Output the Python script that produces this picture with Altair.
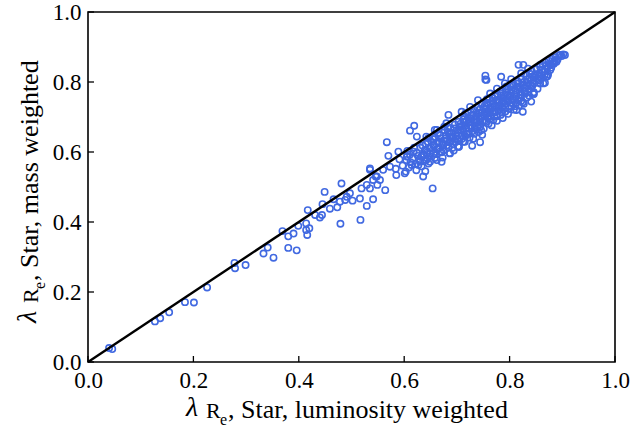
import altair as alt
import pandas as pd

# Hand-read values from the reference: (luminosity weighted, mass weighted) lambda_Re
low_tail = [
    (0.040, 0.040), (0.046, 0.037), (0.127, 0.116), (0.137, 0.125), (0.154, 0.142), (0.184, 0.171),
    (0.201, 0.170), (0.226, 0.213), (0.278, 0.283), (0.279, 0.268), (0.299, 0.277), (0.333, 0.310),
    (0.341, 0.327), (0.352, 0.298), (0.369, 0.374), (0.380, 0.359), (0.390, 0.367), (0.380, 0.326),
    (0.396, 0.319), (0.399, 0.389),
]
mid_range = [
    (0.481, 0.510), (0.449, 0.486), (0.417, 0.434), (0.445, 0.451), (0.444, 0.420), (0.440, 0.413),
    (0.431, 0.420), (0.459, 0.438), (0.473, 0.442), (0.466, 0.465), (0.478, 0.458), (0.488, 0.463),
    (0.491, 0.472), (0.497, 0.482), (0.502, 0.461), (0.516, 0.467), (0.529, 0.446), (0.541, 0.465),
    (0.479, 0.395), (0.517, 0.406), (0.414, 0.396), (0.420, 0.382), (0.414, 0.377), (0.416, 0.363),
    (0.519, 0.496), (0.535, 0.496), (0.529, 0.506), (0.541, 0.520), (0.549, 0.506), (0.546, 0.530),
    (0.535, 0.549), (0.564, 0.491), (0.554, 0.520), (0.535, 0.553), (0.560, 0.549), (0.548, 0.530),
    (0.567, 0.628), (0.570, 0.589), (0.573, 0.558), (0.585, 0.534), (0.601, 0.539),
]
outliers = [
    (0.619, 0.675), (0.611, 0.661), (0.624, 0.644), (0.640, 0.545), (0.654, 0.496), (0.636, 0.530),
    (0.589, 0.601), (0.605, 0.587), (0.636, 0.591), (0.649, 0.572), (0.630, 0.572), (0.662, 0.577),
    (0.642, 0.644), (0.662, 0.663), (0.655, 0.620), (0.614, 0.563), (0.684, 0.706), (0.671, 0.572),
    (0.729, 0.618), (0.744, 0.628), (0.704, 0.615), (0.712, 0.629), (0.756, 0.806), (0.709, 0.715),
    (0.725, 0.729), (0.658, 0.663), (0.680, 0.682), (0.649, 0.596), (0.668, 0.601), (0.687, 0.596),
    (0.642, 0.577), (0.693, 0.644), (0.719, 0.653), (0.744, 0.672), (0.769, 0.691), (0.782, 0.720),
    (0.756, 0.729), (0.787, 0.748), (0.740, 0.748), (0.763, 0.767), (0.794, 0.787), (0.703, 0.615),
    (0.817, 0.849), (0.826, 0.849), (0.784, 0.815), (0.845, 0.766), (0.841, 0.744), (0.825, 0.715),
    (0.813, 0.720), (0.899, 0.874), (0.905, 0.877), (0.889, 0.858), (0.870, 0.815), (0.864, 0.796),
    (0.858, 0.796), (0.877, 0.834), (0.858, 0.849), (0.886, 0.858), (0.882, 0.853), (0.754, 0.818),
    (0.754, 0.807), (0.846, 0.766), (0.867, 0.798), (0.872, 0.817), (0.896, 0.877),
]
band_a = [
    (0.584, 0.552), (0.591, 0.579), (0.597, 0.561), (0.603, 0.544), (0.606, 0.588), (0.612, 0.571),
    (0.609, 0.556), (0.618, 0.601), (0.621, 0.566), (0.626, 0.589), (0.623, 0.548), (0.631, 0.612),
    (0.628, 0.577), (0.637, 0.594), (0.633, 0.559), (0.641, 0.623), (0.644, 0.582), (0.639, 0.605),
    (0.648, 0.611), (0.646, 0.567), (0.606, 0.603), (0.646, 0.640),
]
band_b = [
    (0.652, 0.629), (0.656, 0.596), (0.651, 0.614), (0.659, 0.641), (0.662, 0.608), (0.658, 0.583),
    (0.667, 0.627), (0.664, 0.652), (0.671, 0.599), (0.669, 0.639), (0.674, 0.618), (0.677, 0.661),
    (0.673, 0.584), (0.681, 0.634), (0.684, 0.612), (0.679, 0.647), (0.688, 0.669), (0.686, 0.597),
    (0.691, 0.642), (0.693, 0.623), (0.696, 0.678), (0.689, 0.631), (0.698, 0.654), (0.694, 0.604),
    (0.683, 0.657), (0.676, 0.672), (0.687, 0.645), (0.697, 0.638),
]
band_c = [
    (0.701, 0.637), (0.703, 0.686), (0.706, 0.661), (0.702, 0.616), (0.709, 0.648), (0.712, 0.693),
    (0.708, 0.674), (0.715, 0.629), (0.717, 0.667), (0.714, 0.703), (0.719, 0.651), (0.722, 0.684),
    (0.724, 0.641), (0.721, 0.712), (0.727, 0.696), (0.729, 0.659), (0.726, 0.676), (0.732, 0.721),
    (0.734, 0.668), (0.731, 0.638), (0.736, 0.702), (0.738, 0.685), (0.741, 0.657), (0.739, 0.727),
    (0.743, 0.694), (0.746, 0.713), (0.744, 0.672), (0.748, 0.649), (0.747, 0.736), (0.749, 0.689),
    (0.716, 0.710), (0.705, 0.672), (0.713, 0.657), (0.718, 0.689), (0.723, 0.668), (0.728, 0.705),
    (0.733, 0.686), (0.737, 0.664), (0.742, 0.711), (0.745, 0.697),
]
band_d = [
    (0.752, 0.704), (0.754, 0.722), (0.751, 0.667), (0.757, 0.741), (0.756, 0.686), (0.759, 0.711),
    (0.762, 0.694), (0.761, 0.752), (0.764, 0.728), (0.766, 0.676), (0.768, 0.715), (0.767, 0.746),
    (0.771, 0.701), (0.773, 0.758), (0.772, 0.731), (0.776, 0.689), (0.778, 0.719), (0.777, 0.764),
    (0.781, 0.742), (0.783, 0.706), (0.782, 0.773), (0.786, 0.727), (0.788, 0.754), (0.787, 0.697),
    (0.791, 0.738), (0.793, 0.781), (0.792, 0.716), (0.796, 0.762), (0.798, 0.745), (0.797, 0.709),
    (0.757, 0.751), (0.776, 0.781), (0.791, 0.796), (0.753, 0.733), (0.758, 0.699), (0.763, 0.716),
    (0.769, 0.738), (0.774, 0.747), (0.779, 0.731), (0.784, 0.762), (0.789, 0.744), (0.794, 0.771),
    (0.799, 0.757),
]
band_e = [
    (0.801, 0.787), (0.803, 0.731), (0.802, 0.768), (0.806, 0.749), (0.808, 0.721), (0.807, 0.794),
    (0.811, 0.776), (0.813, 0.741), (0.812, 0.759), (0.816, 0.801), (0.818, 0.733), (0.817, 0.784),
    (0.821, 0.763), (0.823, 0.809), (0.822, 0.746), (0.826, 0.791), (0.828, 0.772), (0.827, 0.738),
    (0.831, 0.818), (0.833, 0.756), (0.832, 0.798), (0.836, 0.779), (0.838, 0.824), (0.837, 0.761),
    (0.841, 0.806), (0.843, 0.789), (0.842, 0.831), (0.846, 0.771), (0.848, 0.814), (0.847, 0.797),
    (0.803, 0.808), (0.822, 0.825), (0.835, 0.838), (0.804, 0.778), (0.809, 0.764), (0.814, 0.787),
    (0.819, 0.772), (0.824, 0.798), (0.829, 0.784), (0.834, 0.808), (0.839, 0.793), (0.844, 0.816),
]
band_f = [
    (0.851, 0.836), (0.853, 0.781), (0.852, 0.821), (0.856, 0.804), (0.858, 0.843), (0.857, 0.826),
    (0.861, 0.811), (0.863, 0.849), (0.866, 0.831), (0.868, 0.856), (0.871, 0.839), (0.874, 0.861),
    (0.873, 0.822), (0.877, 0.848), (0.881, 0.866), (0.884, 0.852), (0.887, 0.871), (0.891, 0.864),
    (0.894, 0.876), (0.902, 0.879),
]
band_g = [
    (0.604, 0.577), (0.611, 0.593), (0.616, 0.582), (0.619, 0.612), (0.624, 0.598), (0.627, 0.563),
    (0.632, 0.586), (0.635, 0.618), (0.638, 0.574), (0.643, 0.598), (0.645, 0.629), (0.649, 0.587),
    (0.653, 0.604), (0.655, 0.636), (0.657, 0.618), (0.661, 0.594), (0.663, 0.629), (0.666, 0.612),
    (0.668, 0.648), (0.672, 0.626), (0.675, 0.605), (0.678, 0.638), (0.681, 0.619), (0.683, 0.668),
    (0.685, 0.628), (0.689, 0.655), (0.692, 0.612), (0.695, 0.667), (0.697, 0.628), (0.699, 0.646),
    (0.702, 0.661), (0.704, 0.631), (0.707, 0.681), (0.709, 0.637), (0.711, 0.666), (0.713, 0.685),
    (0.716, 0.645), (0.718, 0.676), (0.721, 0.698), (0.723, 0.652), (0.726, 0.687), (0.728, 0.671),
    (0.731, 0.707), (0.733, 0.652), (0.735, 0.693), (0.737, 0.714), (0.739, 0.675), (0.742, 0.685),
    (0.744, 0.722), (0.746, 0.662), (0.748, 0.703), (0.751, 0.726), (0.753, 0.689), (0.755, 0.712),
    (0.758, 0.738), (0.760, 0.681), (0.762, 0.721), (0.765, 0.703), (0.767, 0.731), (0.769, 0.753),
    (0.771, 0.713), (0.774, 0.727), (0.776, 0.702), (0.778, 0.749), (0.781, 0.729), (0.783, 0.768),
    (0.785, 0.713), (0.787, 0.741), (0.790, 0.759), (0.792, 0.727), (0.795, 0.749), (0.797, 0.781),
    (0.799, 0.723), (0.802, 0.758), (0.804, 0.741), (0.806, 0.789), (0.809, 0.751), (0.811, 0.731),
    (0.813, 0.771), (0.815, 0.795), (0.818, 0.754), (0.820, 0.782), (0.823, 0.764), (0.825, 0.742),
    (0.828, 0.801), (0.830, 0.767), (0.833, 0.789), (0.835, 0.771), (0.838, 0.812), (0.840, 0.781),
    (0.844, 0.799), (0.849, 0.822), (0.853, 0.808), (0.857, 0.816), (0.862, 0.836), (0.866, 0.819),
    (0.869, 0.846), (0.875, 0.852), (0.879, 0.841), (0.885, 0.861),
]
line_x = [0.0, 1.0]
tick_vals = [0.0, 0.2, 0.4, 0.6, 0.8, 1.0]

all_pts = (low_tail + mid_range + outliers + band_a + band_b + band_c + band_d + band_e
           + band_f + band_g)
pts = pd.DataFrame(all_pts, columns=["lum", "mass"])
diag = pd.DataFrame({"a": line_x, "b": line_x})
ticks = pd.DataFrame({"t": tick_vals})
one = pd.DataFrame({"k": [0]})

W, H = 527, 350
FONT = "'Liberation Serif', 'Times New Roman', Times, serif"
xs = alt.Scale(domain=[0, 1], nice=False, zero=False)
ys = alt.Scale(domain=[0, 1], nice=False, zero=False)


def axis():
    return alt.Axis(values=tick_vals, format=".1f", title=None, tickSize=0, domain=False,
                    grid=False, labelFont=FONT, labelFontSize=23, labelColor="black",
                    labelPadding=7, labelFlush=False, labelOverlap=False, labelBound=False)


points = alt.Chart(pts).mark_point(filled=False, color="#4169E1", size=40, strokeWidth=1.6,
                                   opacity=1).encode(
    x=alt.X("lum:Q", scale=xs, axis=axis()),
    y=alt.Y("mass:Q", scale=ys, axis=axis()),
)

line = alt.Chart(diag).mark_line(color="black", strokeWidth=2.4).encode(
    x=alt.X("a:Q", scale=xs), y=alt.Y("b:Q", scale=ys))

xt = alt.Chart(ticks).mark_rule(color="black", strokeWidth=1.3).encode(
    x=alt.X("t:Q", scale=xs), y=alt.value(H), y2=alt.value(H - 6))
yt = alt.Chart(ticks).mark_rule(color="black", strokeWidth=1.3).encode(
    y=alt.Y("t:Q", scale=ys), x=alt.value(0), x2=alt.value(6))


def txt(s, x, y, size, angle=0, italic=False):
    kw = dict(text=s, font=FONT, fontSize=size, align="left", baseline="alphabetic", color="black")
    if angle:
        kw["angle"] = angle
    if italic:
        kw["fontStyle"] = "italic"
    return alt.Chart(one).mark_text(**kw).encode(x=alt.value(x), y=alt.value(y))


titles = [
    txt("λ", 98, 404, 28, italic=True),
    txt("R", 118, 406, 22),
    txt("e", 132, 413, 16),
    txt(", Star, luminosity weighted", 140, 406, 26),
    txt("λ", -52, 311, 28, angle=270, italic=True),
    txt("R", -50, 291, 22, angle=270),
    txt("e", -43, 277, 16, angle=270),
    txt(", Star, mass weighted", -50, 269, 26, angle=270),
]

chart = alt.layer(points, line, xt, yt, *titles).properties(
    width=W, height=H,
    autosize=alt.AutoSizeParams(type="none"),
    padding={"left": 88, "top": 12, "right": 15, "bottom": 73},
).configure_view(stroke="black", strokeWidth=1.6)

chart.save("out.html", embed_options={"renderer": "svg", "actions": False})
